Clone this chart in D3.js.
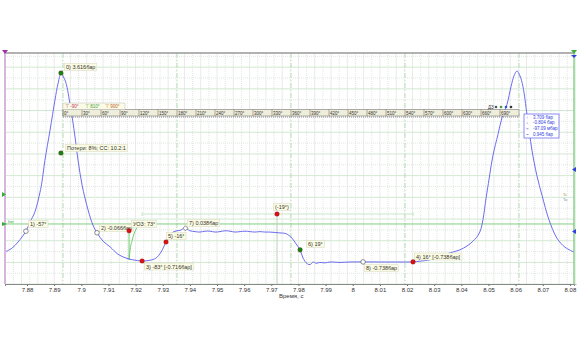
<!DOCTYPE html>
<html>
<head>
<meta charset="utf-8">
<script src="https://cdn.jsdelivr.net/npm/d3@7"></script>
<style>
  html, body { margin: 0; padding: 0; background: #fff; }
  text { font-family: "Liberation Sans", Arial, sans-serif; }
</style>
</head>
<body>
<div id="chart"></div>
<script>
// --- данные: кривая давления (время, с / давление, бар) ---
const timeVals = [7.8719, 7.8745, 7.8767, 7.8796, 7.8811, 7.8829, 7.8848, 7.8855, 7.8866, 7.8885, 7.8903, 7.8914, 7.8925,
  7.8940, 7.8958, 7.8977, 7.8988, 7.9003, 7.9025, 7.9043, 7.9058, 7.9080, 7.9106, 7.9135, 7.9165, 7.9190, 7.9224, 7.9253,
  7.9275, 7.9294, 7.9312, 7.9327, 7.9341, 7.9364, 7.9382, 7.9400, 7.9419, 7.9437, 7.9456, 7.9474, 7.9493, 7.9511, 7.9529,
  7.9548, 7.9566, 7.9585, 7.9603, 7.9621, 7.9640, 7.9658, 7.9676, 7.9695, 7.9713, 7.9732, 7.9750, 7.9761, 7.9776, 7.9791,
  7.9806, 7.9817, 7.9832, 7.9843, 7.9854, 7.9865, 7.9879, 7.9898, 7.9916, 7.9953, 7.9990, 8.0038, 8.0100, 8.0174, 8.0222,
  8.0248, 8.0284, 8.0321, 8.0358, 8.0395, 8.0421, 8.0443, 8.0468, 8.0494, 8.0516, 8.0535, 8.0550, 8.0568, 8.0583, 8.0594,
  8.0605, 8.0616, 8.0627, 8.0642, 8.0660, 8.0678, 8.0697, 8.0723, 8.0752, 8.0782, 8.0815];
const pressVals = [-0.51, -0.42, -0.28, -0.03, 0.18, 0.41, 0.87, 1.10, 1.60, 2.30, 2.99, 3.36, 3.59,
  3.45, 2.92, 2.14, 1.61, 1.03, 0.46, 0.11, -0.066, -0.26, -0.39, -0.56, -0.65, -0.69, -0.716, -0.70,
  -0.65, -0.51, -0.28, -0.12, -0.04, -0.01, 0.038, -0.02, -0.04, -0.05, -0.03, -0.03, -0.05, -0.04, -0.02,
  -0.03, -0.05, -0.04, -0.03, -0.04, -0.05, -0.04, -0.05, -0.05, -0.06, -0.07, -0.08, -0.11, -0.19, -0.32,
  -0.46, -0.65, -0.78, -0.80, -0.74, -0.77, -0.75, -0.76, -0.74, -0.75, -0.74, -0.738, -0.74, -0.74, -0.738,
  -0.72, -0.69, -0.60, -0.53, -0.46, -0.37, -0.26, -0.05, 0.85, 1.70, 2.20, 2.59, 2.89, 3.30, 3.55,
  3.66, 3.55, 3.30, 2.65, 1.84, 1.26, 0.80, 0.23, -0.19, -0.40, -0.51];

// --- шкала углов (градусы) ---
const degTicks = d3.range(0, 720, 30);
const phaseLines = [0, 180, 360, 540, 720];

// --- подписи маркеров ---
const markerLabels = ["0) 3.616бар", "1) -57°", "2) -0.066бар", "3) -83° [-0.716бар]", "4) 16° [-0.738бар]",
  "5) -16°", "6) 19°", "7) 0.038бар", "8) -0.738бар", "(-19°)", "УОЗ: 73°", "Потери: 8%; CC: 10.2:1"];
const markerT = [7.8925, 7.8796, 7.9058, 7.9224, 8.0222, 7.9312, 7.9806, 7.9384, 8.0038, 7.9721, 7.9176, 7.8925];
const markerP = [3.616, -0.03, -0.066, -0.716, -0.738, -0.28, -0.46, 0.038, -0.738, 0.366, -0.02, 1.77];
const markerKind = ["green", "open", "open", "red", "red", "red", "green", "diamond", "open", "red", "red", "green"];

// --- легенда ---
const legendRows = ["3.709 бар", "-0.804 бар", "-97.09 мбар", "0.945 бар"];
const rangeMarks = ["-90°", "810°", "900°"];
const horLevel = 0.136;

const W = 578, H = 350;
const svg = d3.select("#chart").append("svg").attr("width", W).attr("height", H);

const x = d3.scaleLinear().domain([7.8719, 8.0815]).range([5, 574]);
const y = d3.scaleLinear().domain([-1.247, 4.076]).range([284, 53]);
const deg = d3.scaleLinear().domain([0, 720]).range([63, 519]);

// сетка
const grid = svg.append("g");
grid.selectAll(".vg").data(d3.range(7.872, 8.082, 0.003)).enter().append("line")
  .attr("x1", d => x(d)).attr("x2", d => x(d)).attr("y1", 53).attr("y2", 284)
  .attr("stroke", (d, i) => i % 2 ? "#e2e6e2" : "#e8ebe8")
  .attr("stroke-dasharray", (d, i) => i % 2 ? "1,1" : null);
grid.selectAll(".hg").data(d3.range(-1.25, 4.1, 0.25)).enter().append("line")
  .attr("x1", 5).attr("x2", 574).attr("y1", d => y(d)).attr("y2", d => y(d))
  .attr("stroke", (d, i) => i % 2 ? "#e0e8e0" : "#d2e8d2")
  .attr("stroke-dasharray", (d, i) => i % 2 ? "1,1" : null);

// фазы 0/180/360...
grid.selectAll(".ph").data(phaseLines).enter().append("line")
  .attr("x1", d => deg(d)).attr("x2", d => deg(d)).attr("y1", 53).attr("y2", 284)
  .attr("stroke", "#b5dcb5").attr("stroke-dasharray", "5,2,1,2");

// уровень hor
svg.append("line").attr("x1", 5).attr("x2", 574).attr("y1", y(horLevel)).attr("y2", y(horLevel))
  .attr("stroke", "#7fd07f").attr("stroke-width", 1);

// линейка между 3 и 4
svg.append("line").attr("x1", x(7.9224)).attr("x2", x(8.0222)).attr("y1", y(0.366)).attr("y2", y(0.366))
  .attr("stroke", "#c8e6c8");
[7.9224, 8.0222].forEach(t => svg.append("line").attr("x1", x(t)).attr("x2", x(t))
  .attr("y1", y(0.366) - 2).attr("y2", y(0.366) + 2).attr("stroke", "#c8e6c8"));
svg.append("line").attr("x1", x(7.9721)).attr("x2", x(7.9721)).attr("y1", y(0.366)).attr("y2", 284)
  .attr("stroke", "#b9d0b9");

// УОЗ
svg.append("line").attr("x1", x(7.9176)).attr("x2", x(7.9176)).attr("y1", y(horLevel)).attr("y2", y(-0.69))
  .attr("stroke", "#70c870");
const sparkT = [7.9176, 7.9180, 7.9187, 7.9195, 7.9205, 7.9213];
const sparkP = [-0.69, -0.45, -0.25, -0.08, 0.05, 0.12];
svg.append("path").datum(d3.range(sparkT.length))
  .attr("d", d3.line().x(i => x(sparkT[i])).y(i => y(sparkP[i])).curve(d3.curveMonotoneX))
  .attr("fill", "none").attr("stroke", "#70c870");

// кривая давления
svg.append("path").datum(d3.range(timeVals.length))
  .attr("d", d3.line().x(i => x(timeVals[i])).y(i => y(pressVals[i])).curve(d3.curveCatmullRom))
  .attr("fill", "none").attr("stroke", "#6c6cf0").attr("stroke-width", 1);

// рамка
svg.append("line").attr("x1", 5).attr("x2", 574).attr("y1", 53).attr("y2", 53).attr("stroke", "#999").attr("stroke-width", 1.5);
svg.append("line").attr("x1", 5).attr("x2", 5).attr("y1", 53).attr("y2", 284).attr("stroke", "#d9b4de").attr("stroke-width", 2);
svg.append("line").attr("x1", 574).attr("x2", 574).attr("y1", 53).attr("y2", 284).attr("stroke", "#6cc86c").attr("stroke-width", 1.2);
svg.append("path").attr("d", "M2,50 L8,50 L5,54 Z").attr("fill", "#a030a8");
svg.append("path").attr("d", "M571,50 L577,50 L574,54 Z").attr("fill", "#40b040");
svg.append("path").attr("d", "M571,55 L577,55 L574,58 Z").attr("fill", "#3040e0");

// ось X
const xAxis = d3.axisBottom(x).tickValues(d3.range(7.88, 8.085, 0.01)).tickSize(2)
  .tickFormat(d => String(+d.toFixed(2)));
const ax = svg.append("g").attr("transform", "translate(0,284)").call(xAxis);
ax.select(".domain").attr("stroke", "#888");
ax.selectAll("line").attr("stroke", "#666");
ax.selectAll("text").attr("font-size", 6).attr("fill", "#333").attr("dy", "0.5em");
svg.append("g").attr("transform", "translate(0,284)")
  .call(d3.axisBottom(x).tickValues(d3.range(7.872, 8.082, 0.002)).tickSize(1).tickFormat(""))
  .call(g => g.select(".domain").remove()).selectAll("line").attr("stroke", "#888");
svg.append("text").attr("x", 279).attr("y", 298).attr("font-size", 6).attr("fill", "#333").text("Время, с");

// шкала углов
const ruler = svg.append("g");
ruler.append("rect").attr("x", deg(0)).attr("y", 109.5).attr("width", deg(720) - deg(0)).attr("height", 6.5)
  .attr("fill", "#efeedb").attr("stroke", "#777").attr("stroke-width", 0.6);
ruler.selectAll(".sep").data(degTicks).enter().append("line")
  .attr("x1", d => deg(d)).attr("x2", d => deg(d)).attr("y1", 109.5).attr("y2", 116)
  .attr("stroke", "#777").attr("stroke-width", 0.6);
ruler.selectAll(".dl").data(degTicks).enter().append("text")
  .attr("x", d => deg(d) + 1).attr("y", 114.5).attr("font-size", 4.5).attr("fill", "#333").text(d => d + "°");
ruler.append("line").attr("x1", deg(0)).attr("x2", deg(720)).attr("y1", 117).attr("y2", 117)
  .attr("stroke", "#888").attr("stroke-dasharray", "1,1");
ruler.append("rect").attr("x", deg(0)).attr("y", 103).attr("width", 62).attr("height", 6.5)
  .attr("fill", "#fbfbe6").attr("stroke", "#bbb").attr("stroke-width", 0.5);
const rmColors = ["#c03070", "#40a040", "#c06030"];
rangeMarks.forEach((m, i) => ruler.append("text").attr("x", deg(0) + 2 + i * 20).attr("y", 108.3)
  .attr("font-size", 4.5).attr("fill", rmColors[i]).text("⊤ " + m));
ruler.append("text").attr("x", 488).attr("y", 108.5).attr("font-size", 4.5).attr("fill", "#333").text("ДЗ");
[["#555", 496], ["#40a040", 501], ["#3050e0", 506], ["#333", 511]].forEach(c =>
  ruler.append("circle").attr("cx", c[1]).attr("cy", 107).attr("r", 1.3).attr("fill", c[0]));

// маркеры
function box(tx, ty, label) {
  const g = svg.append("g");
  const t = g.append("text").attr("x", tx).attr("y", ty).attr("font-size", 5.5).attr("fill", "#333").text(label);
  const bb = t.node().getBBox();
  g.insert("rect", "text").attr("x", bb.x - 1.5).attr("y", bb.y - 0.5).attr("width", bb.width + 3).attr("height", bb.height + 1)
    .attr("fill", "#fbfbe4").attr("stroke", "#d8d8c0").attr("stroke-width", 0.5);
}
const labelPos = [[66, 69], [30, 226], [101, 230], [146, 268.5], [416, 258.5], [168, 238], [308, 246], [189, 225],
  [366, 270], [275, 209], [133, 226], [67, 150]];
markerLabels.forEach((l, i) => box(labelPos[i][0], labelPos[i][1], l));
markerT.forEach((t, i) => {
  const cx = x(t), cy = y(markerP[i]), k = markerKind[i];
  if (k === "diamond") {
    svg.append("path").attr("d", `M${cx},${cy - 2.5}L${cx + 2.5},${cy}L${cx},${cy + 2.5}L${cx - 2.5},${cy}Z`)
      .attr("fill", "#fff").attr("stroke", "#444").attr("stroke-width", 0.6);
  } else {
    svg.append("circle").attr("cx", cx).attr("cy", cy).attr("r", 2.3)
      .attr("fill", k === "open" ? "#fff" : k === "red" ? "#dd1111" : "#118811")
      .attr("stroke", k === "open" ? "#444" : "#600").attr("stroke-width", k === "open" ? 0.6 : 0.3);
  }
});

// легенда справа
const lg = svg.append("g");
lg.append("rect").attr("x", 524).attr("y", 114).attr("width", 35).attr("height", 24)
  .attr("fill", "#fff").attr("stroke", "#7070f0").attr("stroke-width", 0.8);
const icons = ["↑", "↓", "≈", "~"];
legendRows.forEach((r, i) => {
  lg.append("text").attr("x", 526).attr("y", 118.7 + i * 5.7).attr("font-size", 4.5).attr("fill", "#3040e0").text(icons[i]);
  lg.append("text").attr("x", 533).attr("y", 118.7 + i * 5.7).attr("font-size", 4.5).attr("fill", "#3040e0").text(r);
});

// боковые метки
svg.append("path").attr("d", "M2,192 L6,194.5 L2,197 Z").attr("fill", "#30b030");
svg.append("path").attr("d", `M2,${y(horLevel) - 2} L7,${y(horLevel)} L2,${y(horLevel) + 2} Z`).attr("fill", "#30b030");
svg.append("text").attr("x", 8).attr("y", y(horLevel) - 1).attr("font-size", 4).attr("fill", "#30a030").text("hor");
svg.append("path").attr("d", "M576,167 L572,169.5 L576,172 Z").attr("fill", "#3040e0");
svg.append("path").attr("d", "M576,229 L572,231.5 L576,234 Z").attr("fill", "#3040e0");
svg.append("text").attr("x", 563).attr("y", 196).attr("font-size", 4).attr("fill", "#b09030").text("Tc");
svg.append("text").attr("x", 563).attr("y", 201).attr("font-size", 4).attr("fill", "#8090a0").text("Ta");
</script>
</body>
</html>
